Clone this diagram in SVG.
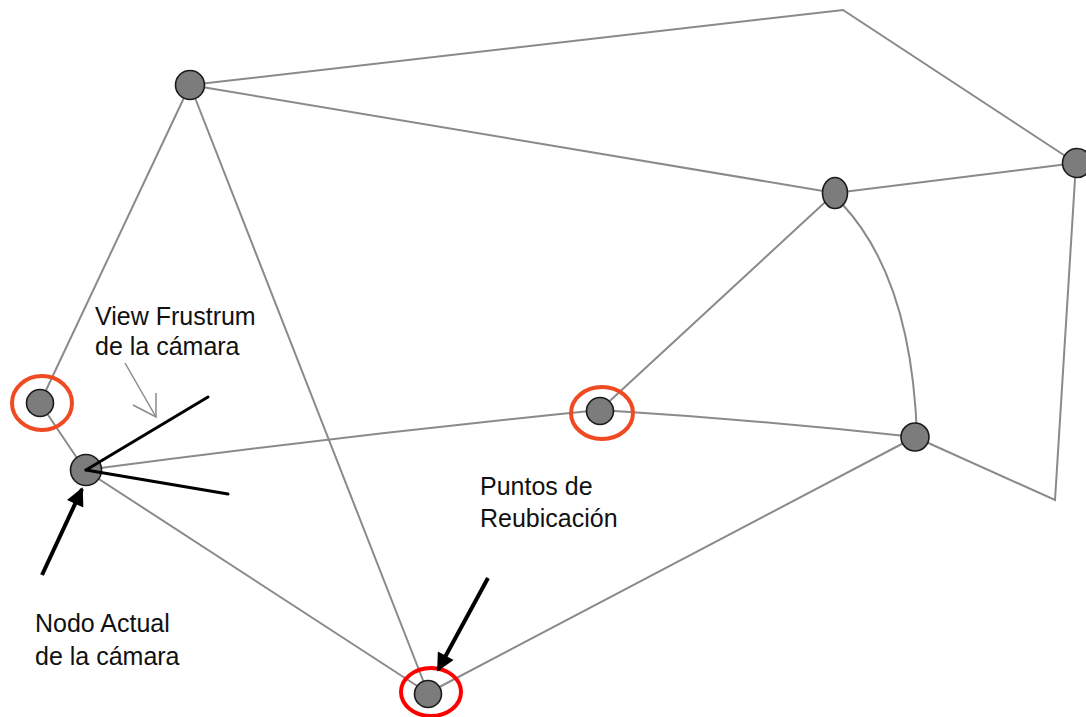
<svg xmlns="http://www.w3.org/2000/svg" width="1086" height="717" viewBox="0 0 1086 717">
  <defs>
    <marker id="blackHead" viewBox="0 0 10 10" refX="9" refY="5" markerWidth="5" markerHeight="4.5" orient="auto" markerUnits="strokeWidth">
      <path d="M0,0 L10,5 L0,10 z" fill="#000"/>
    </marker>
  </defs>
  <style>
    .edge { fill: none; stroke: #8a8a8a; stroke-width: 2; }
    .node { fill: #7c7c7c; stroke: #1a1a1a; stroke-width: 1.6; }
    .ring { fill: none; stroke-width: 4; }
    .frustum { stroke: #000; stroke-width: 3; stroke-linecap: round; }
    .pointer { stroke: #000; stroke-width: 4; }
    .label { font-family: "Liberation Sans", Arial, sans-serif; font-size: 25px; fill: #111; }
  </style>
  <rect width="1086" height="717" fill="#fff"/>

  <!-- connectors -->
  <g id="edges">
    <polyline class="edge" points="190,85 843,10 1076,163"/>
    <line class="edge" x1="190" y1="85" x2="835" y2="193"/>
    <line class="edge" x1="190" y1="85" x2="40" y2="403"/>
    <line class="edge" x1="190" y1="85" x2="428" y2="693"/>
    <line class="edge" x1="835" y1="193" x2="1076" y2="163"/>
    <line class="edge" x1="835" y1="193" x2="600" y2="410"/>
    <path class="edge" d="M843,205 Q912,280 917,437"/>
    <polyline class="edge" points="1076,163 1055,500 915,437"/>
    <line class="edge" x1="40" y1="403" x2="85" y2="470"/>
    <path class="edge" d="M85,470 Q340,436 600,410"/>
    <path class="edge" d="M600,410 Q760,420 915,437"/>
    <line class="edge" x1="85" y1="470" x2="428" y2="693"/>
    <line class="edge" x1="428" y1="693" x2="915" y2="437"/>
  </g>

  <!-- nodes -->
  <g id="node-a"><circle class="node" cx="190" cy="85" r="14.5"/></g>
  <g id="node-b"><ellipse class="node" cx="835" cy="193" rx="12.5" ry="15.5"/></g>
  <g id="node-c"><circle class="node" cx="1077" cy="163" r="14.5"/></g>
  <g id="node-d"><circle class="node" cx="40" cy="403" r="13.5"/></g>
  <g id="node-e"><circle class="node" cx="86" cy="470" r="15.5"/></g>
  <g id="node-f"><circle class="node" cx="600" cy="411" r="13.5"/></g>
  <g id="node-g"><circle class="node" cx="915" cy="437" r="14"/></g>
  <g id="node-h"><circle class="node" cx="428" cy="694" r="13.5"/></g>

  <!-- relocation point markers -->
  <g id="rings">
    <ellipse class="ring" cx="42" cy="403" rx="30" ry="27" stroke="#f04a22"/>
    <ellipse class="ring" cx="602" cy="413" rx="31" ry="26" stroke="#f04a22"/>
    <ellipse class="ring" cx="431" cy="692" rx="30" ry="24" stroke="#ff0000"/>
  </g>

  <!-- camera view frustum -->
  <g id="frustum">
    <line class="frustum" x1="86" y1="470" x2="208" y2="397"/>
    <line class="frustum" x1="86" y1="470" x2="228" y2="494"/>
  </g>

  <!-- pointer arrows -->
  <g id="pointers">
    <line class="pointer" x1="42" y1="575" x2="82" y2="489" marker-end="url(#blackHead)"/>
    <line class="pointer" x1="488" y1="578" x2="438" y2="670" marker-end="url(#blackHead)"/>
    <g fill="none" stroke="#8a8a8a" stroke-width="1.5">
      <line x1="125" y1="363" x2="156" y2="417"/>
      <polyline points="133,405 156,417 156,393"/>
    </g>
  </g>

  <!-- labels -->
  <g id="labels">
    <text class="label" x="95" y="325">View Frustrum</text>
    <text class="label" x="95" y="355">de la cámara</text>
    <text class="label" x="35" y="632">Nodo Actual</text>
    <text class="label" x="35" y="665">de la cámara</text>
    <text class="label" x="480" y="495">Puntos de</text>
    <text class="label" x="480" y="527">Reubicación</text>
  </g>
</svg>
